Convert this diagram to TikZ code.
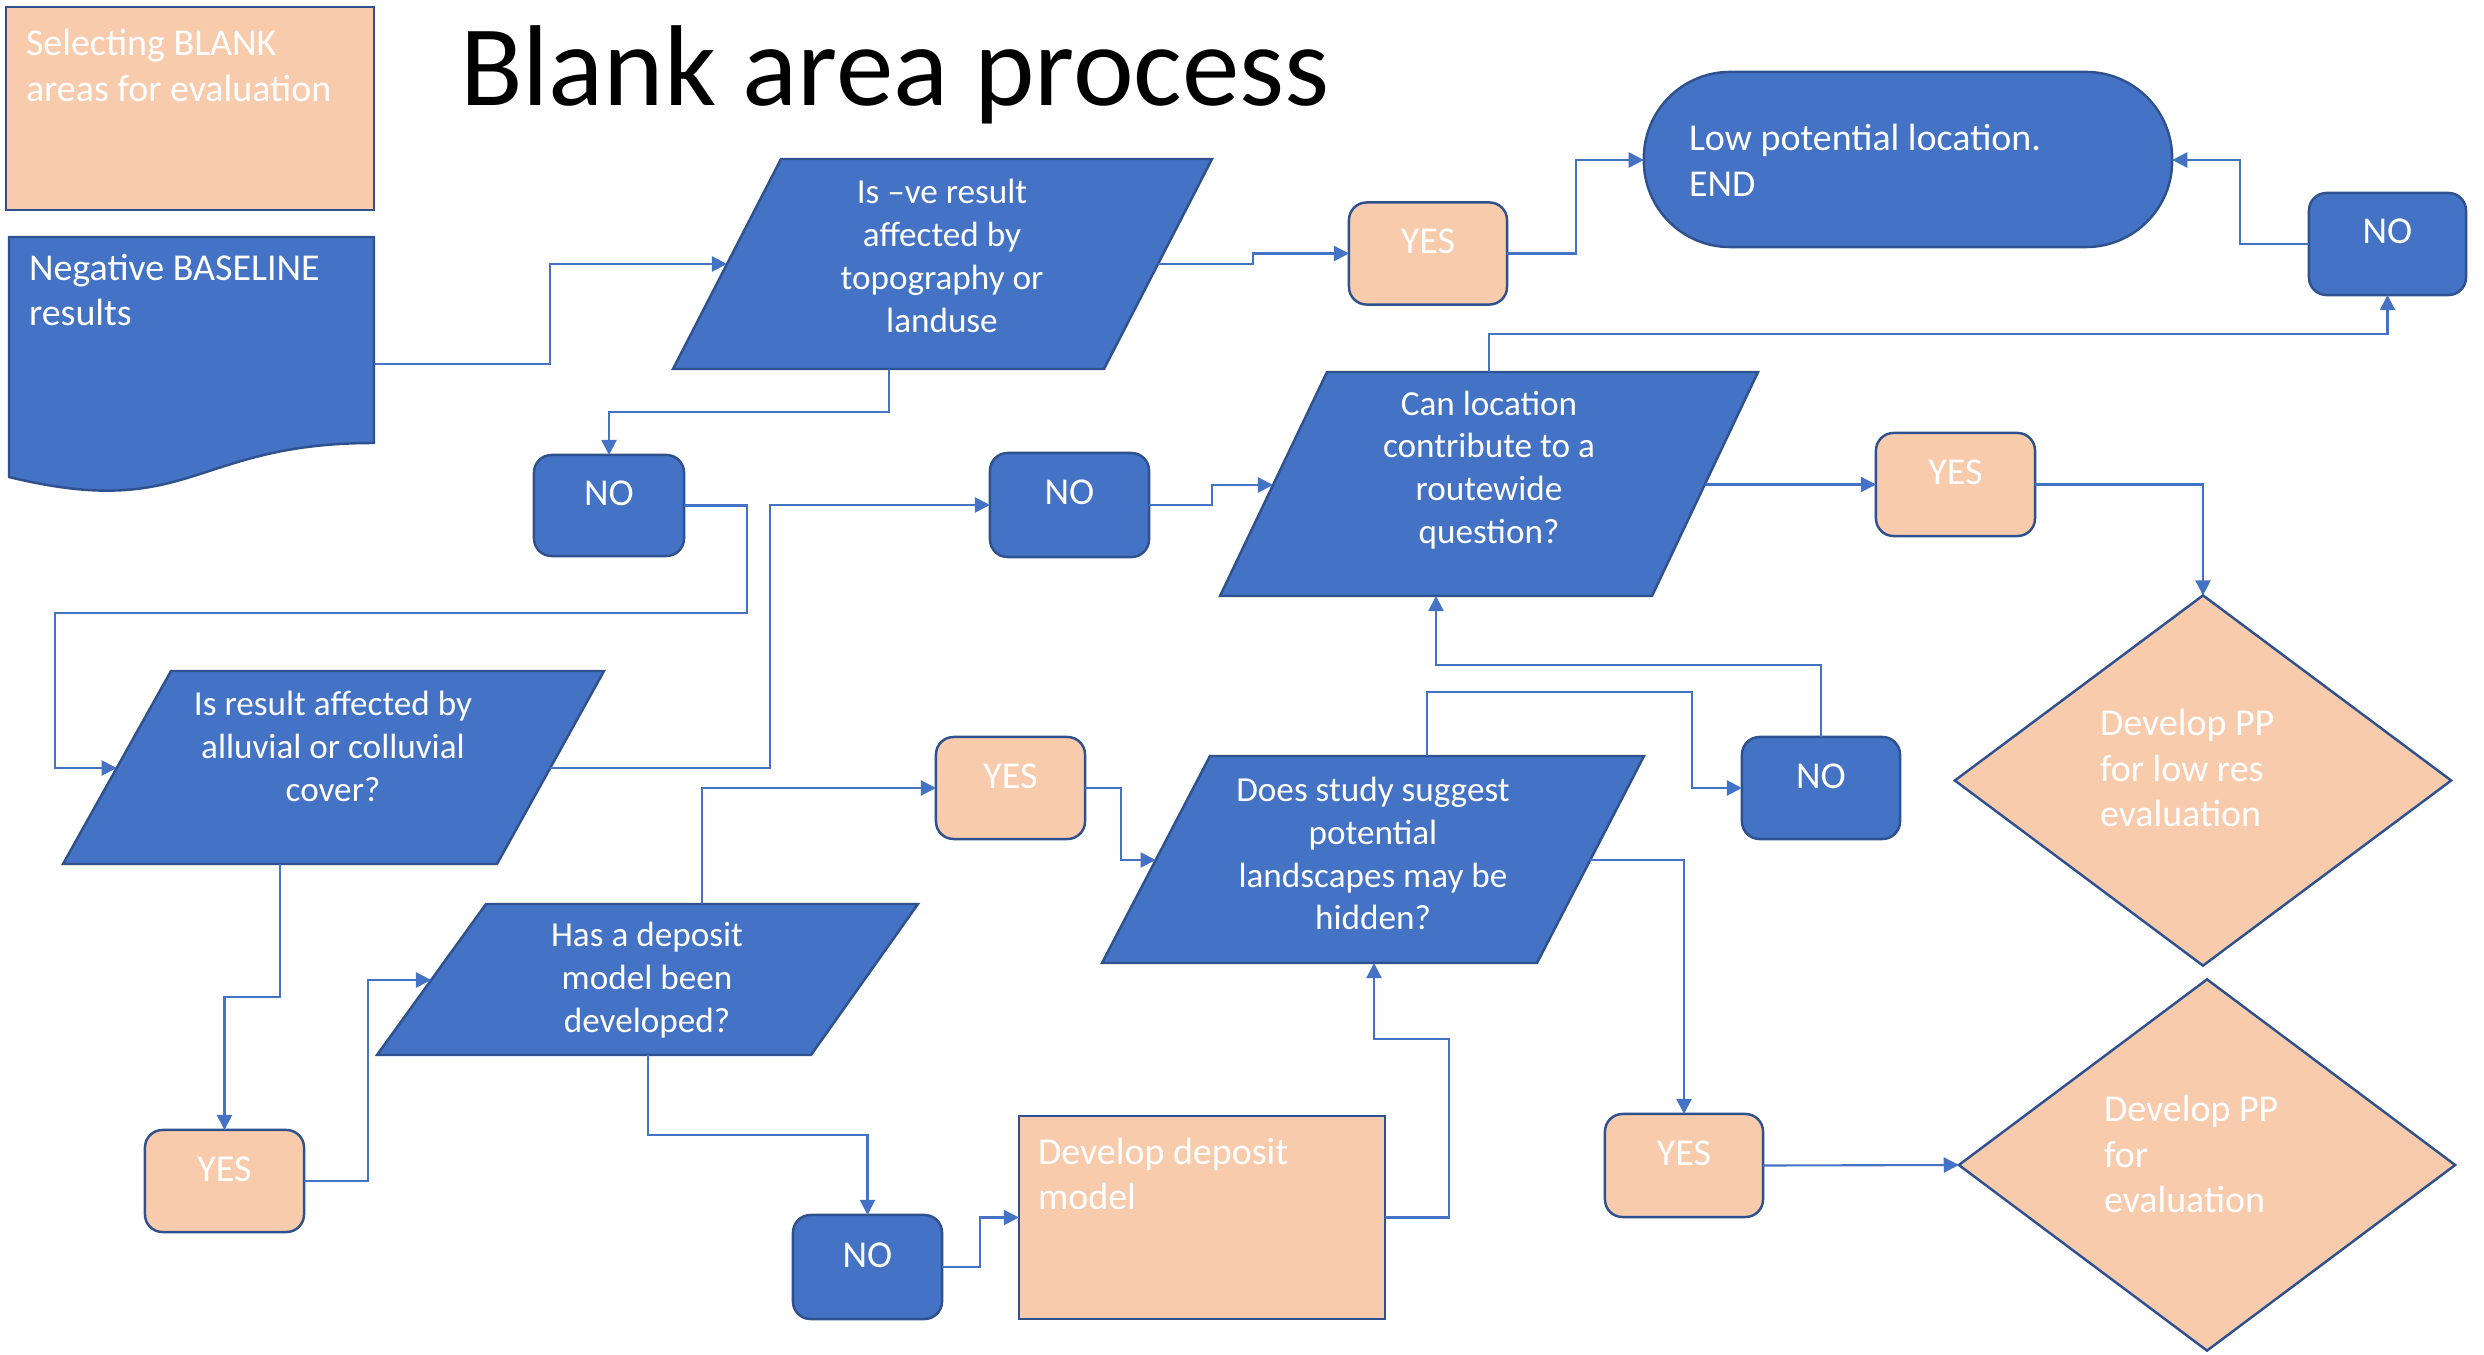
\documentclass[tikz,border=0pt]{standalone}
\usepackage{fontspec}
\setmainfont{Carlito}
\usetikzlibrary{arrows.meta,shapes.geometric,calc}

\definecolor{flowblue}{HTML}{4472C4}
\definecolor{edgeblue}{HTML}{2F528F}
\definecolor{peach}{HTML}{F8CBAD}

\tikzset{
  every node/.style={inner sep=0pt, outer sep=0pt},
  bluebox/.style={draw=edgeblue, fill=flowblue, line width=0.7pt},
  peachbox/.style={draw=edgeblue, fill=peach, line width=0.7pt},
  answer/.style={rectangle, rounded corners=5pt, text=white,
    minimum width=1.58cm, minimum height=1.02cm,
    font=\fontsize{10.8}{13}\selectfont, text height=4pt, text depth=4pt},
  yesbox/.style={answer, peachbox},
  nobox/.style={answer, bluebox},
  qtext/.style={text=white, align=center, font=\fontsize{10}{12.2}\selectfont},
  boxtext/.style={text=white, align=left, anchor=west, font=\fontsize{10.8}{13}\selectfont},
  link/.style={draw=flowblue, line width=0.6pt, -{Triangle[length=4.3pt,width=4.3pt]}},
}

\begin{document}
\begin{tikzpicture}[x=0.01cm, y=-0.01cm]
\useasboundingbox (0,0) rectangle (2484,1355);
\fill[white] (0,0) rectangle (2484,1355);

% title
\node[anchor=base west, font=\fontsize{32.7}{39}\selectfont] (title) at (460,106) {Blank area process};

% legend-like boxes at the top left
\node[rectangle, peachbox, minimum width=3.68cm, minimum height=2.03cm] (select) at (190,108.5) {};
\node[boxtext] (selecttxt) at (26,65.5) {Selecting BLANK\\areas for evaluation};

\path[bluebox] (9,237) -- (374,237) -- (374,443)
  .. controls (191.5,443) and (191.5,521.5) .. (9,477) -- cycle;
\node[boxtext] (baseline) at (29,290) {Negative BASELINE\\results};
\coordinate (docout) at (374,364);

% terminal
\node[rectangle, rounded corners=24.5pt, bluebox, minimum width=5.28cm, minimum height=1.75cm] (endnode) at (1908,159.5) {};
\node[boxtext] (endtxt) at (1689,160.5) {Low potential location.\\END};

% decision parallelograms
\path[bluebox] (781,159) -- (1212,159) -- (1104,369) -- (673,369) -- cycle;
\node[qtext] (q1) at (942,256) {Is –ve result\\affected by\\topography or\\landuse};
\coordinate (q1in) at (727,264);
\coordinate (q1out) at (1158,264);
\coordinate (q1bot) at (889,369);

\path[bluebox] (1327,372) -- (1758,372) -- (1652,596) -- (1220,596) -- cycle;
\node[qtext] (q2) at (1489,470) {Can location\\contribute to a\\routewide\\question?};
\coordinate (q2top) at (1489,372);
\coordinate (q2in) at (1273,485);
\coordinate (q2out) at (1704.8,484.5);
\coordinate (q2bot) at (1436,596);

\path[bluebox] (171,671) -- (604,671) -- (497,864) -- (63,864) -- cycle;
\node[qtext] (q3) at (333,746.5) {Is result affected by\\alluvial or colluvial\\cover?};
\coordinate (q3in) at (116.7,768);
\coordinate (q3out) at (550.2,768);
\coordinate (q3bot) at (280,864);

\path[bluebox] (1210,756) -- (1644,756) -- (1537,963) -- (1102,963) -- cycle;
\node[qtext] (q4) at (1373,853.5) {Does study suggest\\potential\\landscapes may be\\hidden?};
\coordinate (q4in) at (1155.7,860);
\coordinate (q4out) at (1590.2,860);
\coordinate (q4top) at (1427,756);
\coordinate (q4bot) at (1374,963);

\path[bluebox] (486,904) -- (918,904) -- (811,1055) -- (377,1055) -- cycle;
\node[qtext] (q5) at (647,980) {Has a deposit\\model been\\developed?};
\coordinate (q5in) at (431.1,980);
\coordinate (q5top) at (702,904);
\coordinate (q5bot) at (648,1055);

% answer boxes
\node[yesbox] (yes1) at (1428,253.5) {YES};
\node[nobox, minimum width=1.57cm] (no1) at (2387.5,244) {NO};
\node[nobox, minimum width=1.50cm, minimum height=1.01cm] (noa) at (609,505.5) {NO};
\node[nobox, minimum width=1.59cm, minimum height=1.04cm] (nob) at (1069.5,505) {NO};
\node[yesbox, minimum width=1.59cm, minimum height=1.03cm] (yes2) at (1955.5,484.5) {YES};
\node[nobox] (no2) at (1821,788) {NO};
\node[yesbox, minimum width=1.49cm] (yes3) at (1010.5,788) {YES};
\node[yesbox, minimum width=1.59cm] (yesc) at (224.5,1181) {YES};
\node[nobox, minimum width=1.49cm, minimum height=1.04cm] (noc) at (867.5,1267) {NO};
\node[yesbox, minimum height=1.03cm] (yes4) at (1684,1165.5) {YES};

% process box
\node[rectangle, peachbox, minimum width=3.66cm, minimum height=2.03cm] (deposit) at (1202,1217.5) {};
\node[boxtext] (deposittxt) at (1038,1174) {Develop deposit\\model};

% outcome diamonds
\node[diamond, peachbox, minimum width=4.96cm, minimum height=3.70cm] (pp1) at (2203,780.5) {};
\node[boxtext] (pp1txt) at (2100,768) {Develop PP\\for low res\\evaluation};
\node[diamond, peachbox, minimum width=4.96cm, minimum height=3.71cm] (pp2) at (2207,1165) {};
\node[boxtext] (pp2txt) at (2104,1154) {Develop PP\\for\\evaluation};

% connectors
\draw[link] (docout) -- (550,364) -- (550,264) -- (q1in);
\draw[link] (q1out) -- (1253,264) -- (1253,253.5) -- (yes1.west);
\draw[link] (yes1.east) -- (1576,253.5) -- (1576,160) -- (endnode.west |- 0,160);
\draw[link] (no1.west) -- (2240,244) -- (2240,160) -- (endnode.east |- 0,160);
\draw[link] (q2top) -- (1489,334) -- (2387.5,334) -- (no1.south);
\draw[link] (q2out) -- (yes2.west);
\draw[link] (yes2.east) -- (2203,484.5) -- (pp1.north);
\draw[link] (q1bot) -- (889,412) -- (609,412) -- (noa.north);
\draw[link] (noa.east) -- (747,505.5) -- (747,613) -- (55,613) -- (55,768) -- (q3in);
\draw[link] (q3out) -- (770,768) -- (770,505) -- (nob.west);
\draw[link] (nob.east) -- (1212,505) -- (1212,485) -- (q2in);
\draw[link] (q3bot) -- (280,997) -- (224.5,997) -- (yesc.north);
\draw[link] (yesc.east) -- (368,1181) -- (368,980) -- (q5in);
\draw[link] (q5top) -- (702,788) -- (yes3.west);
\draw[link] (q5bot) -- (648,1135) -- (867.5,1135) -- (noc.north);
\draw[link] (noc.east) -- (980,1267) -- (980,1217.5) -- (deposit.west);
\draw[link] (deposit.east) -- (1449,1217.5) -- (1449,1039) -- (1374,1039) -- (q4bot);
\draw[link] (yes3.east) -- (1121,788) -- (1121,860) -- (q4in);
\draw[link] (q4top) -- (1427,692) -- (1692,692) -- (1692,788) -- (no2.west);
\draw[link] (no2.north) -- (1821,665) -- (1436,665) -- (q2bot);
\draw[link] (q4out) -- (1684,860) -- (yes4.north);
\draw[link] (yes4.east) -- (pp2.west);
\end{tikzpicture}
\end{document}
